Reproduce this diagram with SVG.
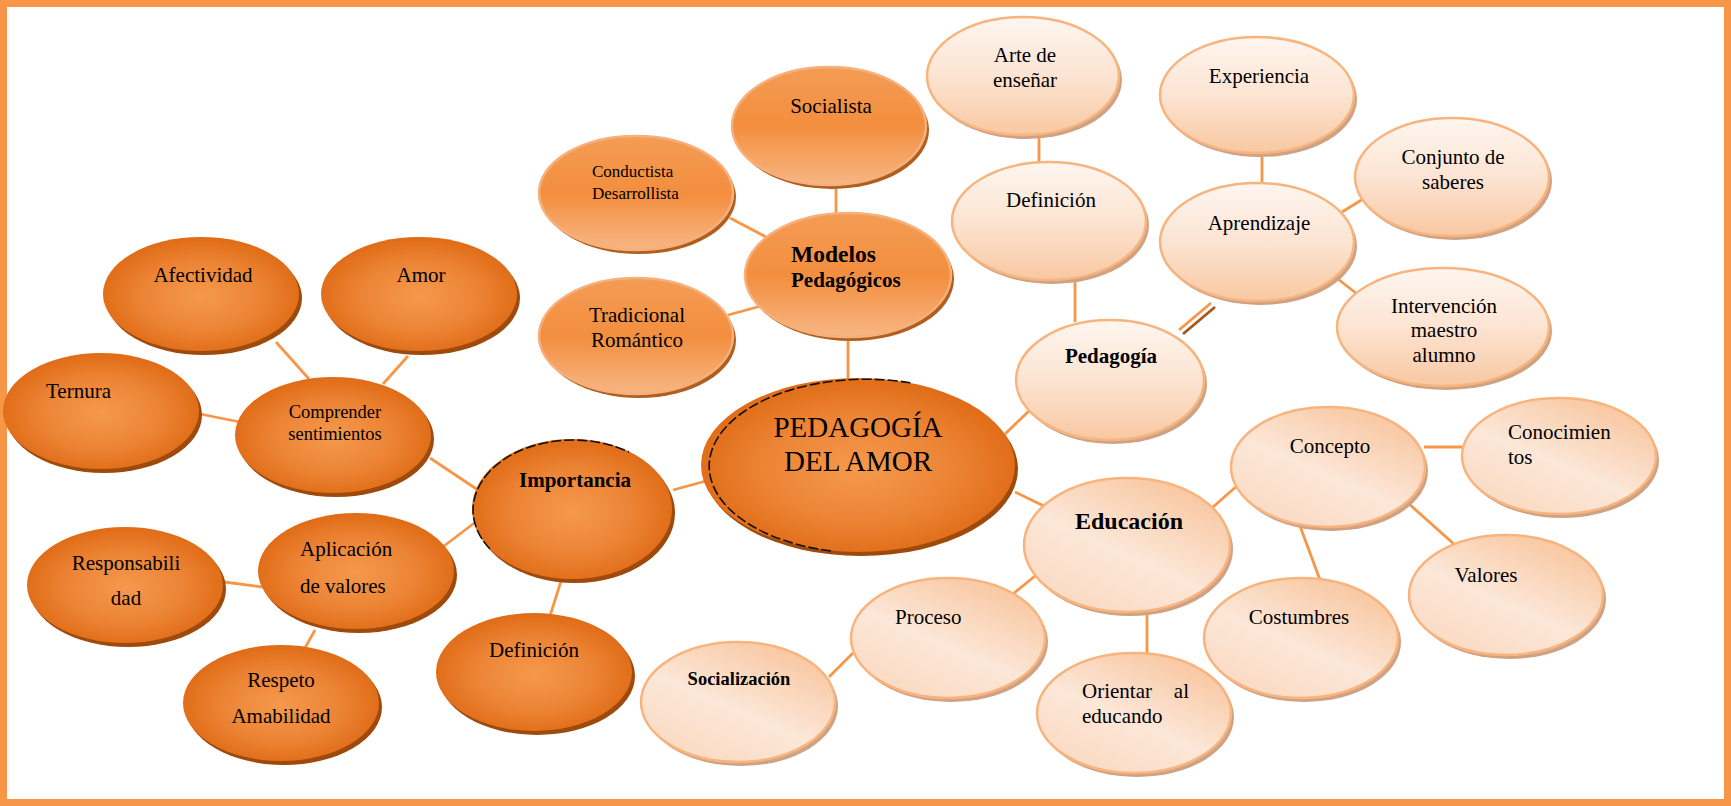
<svg xmlns="http://www.w3.org/2000/svg" width="1731" height="806" viewBox="0 0 1731 806">
<defs>
<radialGradient id="gDark" cx="0.5" cy="0.52" r="0.55">
<stop offset="0" stop-color="#F5994D"/>
<stop offset="0.55" stop-color="#EC8435"/>
<stop offset="1" stop-color="#DE6812"/>
</radialGradient>
<linearGradient id="gMed" x1="0" y1="0" x2="0" y2="1">
<stop offset="0" stop-color="#F49C55"/>
<stop offset="0.5" stop-color="#F38E3E"/>
<stop offset="1" stop-color="#F7B684"/>
</linearGradient>
<linearGradient id="gLightV" x1="0" y1="0" x2="0" y2="1">
<stop offset="0" stop-color="#FEF6F0"/>
<stop offset="0.5" stop-color="#FCE4D2"/>
<stop offset="1" stop-color="#F8C8A2"/>
</linearGradient>
<linearGradient id="gLightD" x1="0.85" y1="0" x2="0.15" y2="1">
<stop offset="0" stop-color="#F8C298"/>
<stop offset="0.55" stop-color="#FCE7D8"/>
<stop offset="1" stop-color="#FAD8BF"/>
</linearGradient>
</defs>
<style>
.dk{fill:url(#gDark)}
.dkS{fill:#9E4A0C}
.md{fill:url(#gMed);stroke:#F6B07C;stroke-width:2.5}
.mdS{fill:#B15E1E}
.lv{fill:url(#gLightV);stroke:#F7B47E;stroke-width:2.5}
.ld{fill:url(#gLightD);stroke:#F7B47E;stroke-width:2.5}
.lS{fill:#CFA283}
.cn line{stroke:#F79646;stroke-width:2.8}
.t{font-family:"Liberation Serif","Times New Roman",serif;font-size:21px;fill:#000}
.c{text-anchor:middle}
.b{font-weight:bold}
.blk{fill:none;stroke:#111;stroke-width:1.6;stroke-dasharray:10 3}
</style>
<rect x="0" y="0" width="1731" height="806" fill="#FFFFFF"/>
<rect x="3.5" y="3.5" width="1724" height="799" fill="none" stroke="#F79646" stroke-width="7"/>
<g id="connectors" class="cn">
<line x1="200" y1="414" x2="240" y2="422"/>
<line x1="276" y1="342" x2="309" y2="379"/>
<line x1="408" y1="356" x2="383" y2="384"/>
<line x1="430" y1="458" x2="478" y2="490"/>
<line x1="444" y1="546" x2="477" y2="521"/>
<line x1="224" y1="582" x2="262" y2="587"/>
<line x1="315" y1="630" x2="305" y2="648"/>
<line x1="562" y1="578" x2="550" y2="616"/>
<line x1="673" y1="490" x2="706" y2="481"/>
<line x1="730" y1="218" x2="768" y2="238"/>
<line x1="728" y1="315" x2="761" y2="306"/>
<line x1="836" y1="184" x2="836" y2="215"/>
<line x1="848" y1="336" x2="848" y2="380"/>
<line x1="1039" y1="134" x2="1039" y2="164"/>
<line x1="1075" y1="279" x2="1075" y2="322"/>
<line x1="1005" y1="434" x2="1031" y2="409"/>
<line x1="1179" y1="330" x2="1211" y2="303"/>
<line x1="1183" y1="334" x2="1215" y2="307" style="stroke:#A8561C"/>
<line x1="1262" y1="153" x2="1262" y2="185"/>
<line x1="1342" y1="212" x2="1363" y2="199"/>
<line x1="1338" y1="279" x2="1357" y2="294"/>
<line x1="1015" y1="492" x2="1046" y2="507"/>
<line x1="1213" y1="507" x2="1238" y2="485"/>
<line x1="1424" y1="447" x2="1465" y2="447"/>
<line x1="1300" y1="526" x2="1320" y2="580"/>
<line x1="1408" y1="503" x2="1455" y2="545"/>
<line x1="1035" y1="576" x2="1013" y2="594"/>
<line x1="853" y1="653" x2="829" y2="677"/>
<line x1="1147" y1="612" x2="1147" y2="655"/>
</g>
<g id="n-afectividad">
<ellipse class="dkS" cx="204" cy="298" rx="98" ry="57"/>
<ellipse class="dk" cx="201" cy="294" rx="98" ry="57"/>
<text class="t c" x="203" y="282">Afectividad</text>
</g>
<g id="n-amor">
<ellipse class="dkS" cx="422" cy="298" rx="98" ry="57"/>
<ellipse class="dk" cx="419" cy="294" rx="98" ry="57"/>
<text class="t c" x="421" y="282">Amor</text>
</g>
<g id="n-ternura">
<ellipse class="dkS" cx="104" cy="415" rx="98" ry="58"/>
<ellipse class="dk" cx="101" cy="411" rx="98" ry="58"/>
<text class="t" x="46" y="398">Ternura</text>
</g>
<g id="n-comprender">
<ellipse class="dkS" cx="336" cy="439" rx="98" ry="58"/>
<ellipse class="dk" cx="333" cy="435" rx="98" ry="58"/>
<text class="t c" x="335" y="418" style="font-size:18.5px">Comprender</text>
<text class="t c" x="335" y="440" style="font-size:18.5px">sentimientos</text>
</g>
<g id="n-importancia">
<ellipse class="dkS" cx="575" cy="513" rx="100" ry="70"/>
<ellipse class="dk" cx="572" cy="509" rx="100" ry="70"/>
<path class="blk" d="M490,549 A100,70 0 0 1 629,452"/>
<text class="t c b" x="575" y="487">Importancia</text>
</g>
<g id="n-aplicacion">
<ellipse class="dkS" cx="359" cy="575" rx="98" ry="58"/>
<ellipse class="dk" cx="356" cy="571" rx="98" ry="58"/>
<text class="t" x="300" y="556">Aplicación</text>
<text class="t" x="300" y="593">de valores</text>
</g>
<g id="n-responsabilidad">
<ellipse class="dkS" cx="128" cy="589" rx="98" ry="58"/>
<ellipse class="dk" cx="125" cy="585" rx="98" ry="58"/>
<text class="t c" x="126" y="570">Responsabili</text>
<text class="t c" x="126" y="605">dad</text>
</g>
<g id="n-respeto">
<ellipse class="dkS" cx="284" cy="707" rx="98" ry="58"/>
<ellipse class="dk" cx="281" cy="703" rx="98" ry="58"/>
<text class="t c" x="281" y="687">Respeto</text>
<text class="t c" x="281" y="723">Amabilidad</text>
</g>
<g id="n-definicion-imp">
<ellipse class="dkS" cx="537" cy="676" rx="98" ry="59"/>
<ellipse class="dk" cx="534" cy="672" rx="98" ry="59"/>
<text class="t c" x="534" y="657">Definición</text>
</g>
<g id="n-pedagogia-amor">
<ellipse class="dkS" cx="861" cy="469" rx="157" ry="87"/>
<ellipse class="dk" cx="858" cy="465" rx="157" ry="87"/>
<path class="blk" d="M831,551 A157,87 0 1 1 912,383"/>
<text class="t c" x="858" y="437" style="font-size:29px">PEDAGOGÍA</text>
<text class="t c" x="858" y="471" style="font-size:29px">DEL AMOR</text>
</g>
<g id="n-conductista">
<ellipse class="mdS" cx="639" cy="197" rx="97" ry="57"/>
<ellipse class="md" cx="636" cy="193" rx="97" ry="57"/>
<text class="t" x="592" y="177" style="font-size:17px">Conductista</text>
<text class="t" x="592" y="199" style="font-size:17px">Desarrollista</text>
</g>
<g id="n-socialista">
<ellipse class="mdS" cx="832" cy="130" rx="97" ry="59"/>
<ellipse class="md" cx="829" cy="126" rx="97" ry="59"/>
<text class="t c" x="831" y="113">Socialista</text>
</g>
<g id="n-modelos">
<ellipse class="mdS" cx="851" cy="279" rx="103" ry="62"/>
<ellipse class="md" cx="848" cy="275" rx="103" ry="62"/>
<text class="t b" x="791" y="262" style="font-size:23.5px">Modelos</text>
<text class="t b" x="791" y="287">Pedagógicos</text>
</g>
<g id="n-tradicional">
<ellipse class="mdS" cx="639" cy="340" rx="97" ry="58"/>
<ellipse class="md" cx="636" cy="336" rx="97" ry="58"/>
<text class="t c" x="637" y="322">Tradicional</text>
<text class="t c" x="637" y="347">Romántico</text>
</g>
<g id="n-arte">
<ellipse class="lS" cx="1026" cy="80" rx="96" ry="59"/>
<ellipse class="lv" cx="1023" cy="76" rx="96" ry="59"/>
<text class="t c" x="1025" y="62">Arte de</text>
<text class="t c" x="1025" y="87">enseñar</text>
</g>
<g id="n-definicion-ped">
<ellipse class="lS" cx="1052" cy="225" rx="97" ry="59"/>
<ellipse class="lv" cx="1049" cy="221" rx="97" ry="59"/>
<text class="t c" x="1051" y="207">Definición</text>
</g>
<g id="n-pedagogia">
<ellipse class="lS" cx="1113" cy="384" rx="94" ry="60"/>
<ellipse class="lv" cx="1110" cy="380" rx="94" ry="60"/>
<text class="t c b" x="1111" y="363">Pedagogía</text>
</g>
<g id="n-experiencia">
<ellipse class="lS" cx="1260" cy="99" rx="97" ry="58"/>
<ellipse class="lv" cx="1257" cy="95" rx="97" ry="58"/>
<text class="t c" x="1259" y="83">Experiencia</text>
</g>
<g id="n-aprendizaje">
<ellipse class="lS" cx="1260" cy="246" rx="97" ry="59"/>
<ellipse class="lv" cx="1257" cy="242" rx="97" ry="59"/>
<text class="t c" x="1259" y="230">Aprendizaje</text>
</g>
<g id="n-conjunto">
<ellipse class="lS" cx="1455" cy="181" rx="97" ry="59"/>
<ellipse class="lv" cx="1452" cy="177" rx="97" ry="59"/>
<text class="t c" x="1453" y="164">Conjunto de</text>
<text class="t c" x="1453" y="189">saberes</text>
</g>
<g id="n-intervencion">
<ellipse class="lS" cx="1446" cy="331" rx="106" ry="59"/>
<ellipse class="lv" cx="1443" cy="327" rx="106" ry="59"/>
<text class="t c" x="1444" y="313">Intervención</text>
<text class="t c" x="1444" y="337">maestro</text>
<text class="t c" x="1444" y="362">alumno</text>
</g>
<g id="n-educacion">
<ellipse class="lS" cx="1130" cy="549" rx="103" ry="67"/>
<ellipse class="ld" cx="1127" cy="545" rx="103" ry="67"/>
<text class="t c b" x="1129" y="529" style="font-size:24px">Educación</text>
</g>
<g id="n-concepto">
<ellipse class="lS" cx="1331" cy="471" rx="97" ry="60"/>
<ellipse class="ld" cx="1328" cy="467" rx="97" ry="60"/>
<text class="t c" x="1330" y="453">Concepto</text>
</g>
<g id="n-conocimientos">
<ellipse class="lS" cx="1562" cy="460" rx="97" ry="58"/>
<ellipse class="ld" cx="1559" cy="456" rx="97" ry="58"/>
<text class="t" x="1508" y="439">Conocimien</text>
<text class="t" x="1508" y="464">tos</text>
</g>
<g id="n-costumbres">
<ellipse class="lS" cx="1304" cy="642" rx="97" ry="60"/>
<ellipse class="ld" cx="1301" cy="638" rx="97" ry="60"/>
<text class="t c" x="1299" y="624">Costumbres</text>
</g>
<g id="n-valores">
<ellipse class="lS" cx="1509" cy="599" rx="97" ry="60"/>
<ellipse class="ld" cx="1506" cy="595" rx="97" ry="60"/>
<text class="t c" x="1486" y="582">Valores</text>
</g>
<g id="n-proceso">
<ellipse class="lS" cx="951" cy="642" rx="97" ry="60"/>
<ellipse class="ld" cx="948" cy="638" rx="97" ry="60"/>
<text class="t" x="895" y="624">Proceso</text>
</g>
<g id="n-socializacion">
<ellipse class="lS" cx="741" cy="706" rx="97" ry="60"/>
<ellipse class="ld" cx="738" cy="702" rx="97" ry="60"/>
<text class="t c b" x="739" y="685" style="font-size:18.5px">Socialización</text>
</g>
<g id="n-orientar">
<ellipse class="lS" cx="1137" cy="717" rx="97" ry="60"/>
<ellipse class="ld" cx="1134" cy="713" rx="97" ry="60"/>
<text class="t" x="1082" y="698">Orientar</text>
<text class="t" x="1189" y="698" text-anchor="end">al</text>
<text class="t" x="1082" y="723">educando</text>
</g>
</svg>
